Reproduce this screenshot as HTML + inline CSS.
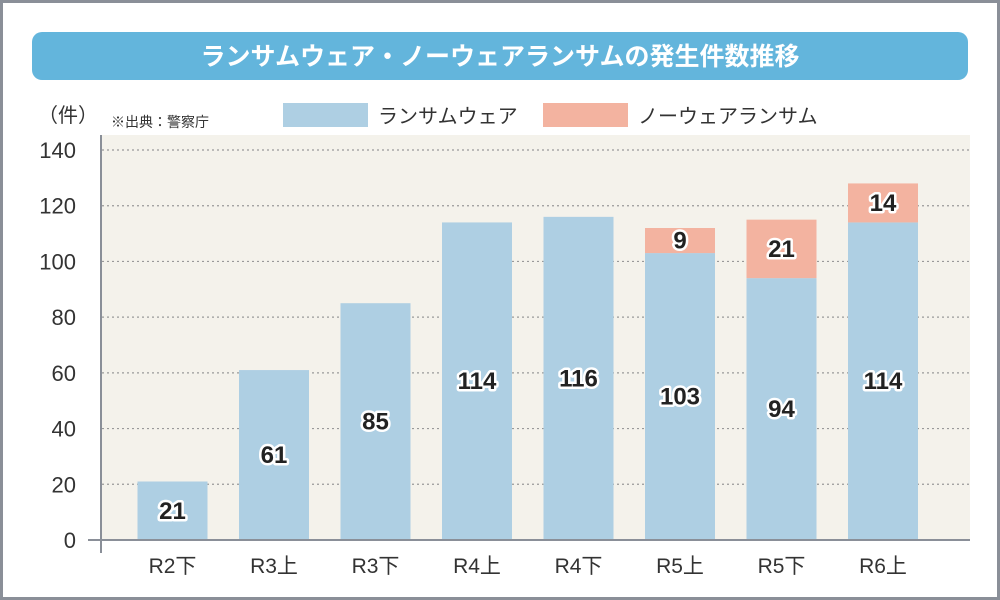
<!DOCTYPE html>
<html><head><meta charset="utf-8"><style>
body{margin:0;background:#fff;}
svg{display:block;font-family:"Liberation Sans","Noto Sans CJK JP",sans-serif;}
</style></head><body>
<svg id="c" width="1000" height="600" viewBox="0 0 1000 600">
<rect x="1.5" y="1.5" width="997" height="597" fill="#fff" stroke="#8a8f98" stroke-width="3"/>
<rect x="32" y="32" width="936" height="48" rx="10" fill="#63b5dc"/>
<text x="500" y="65" text-anchor="middle" font-size="25" font-weight="bold" fill="#fff">ランサムウェア・ノーウェアランサムの発生件数推移</text>
<text x="38" y="122" font-size="20" fill="#333">（件）</text>
<text x="111" y="127" font-size="14" fill="#333">※出典：警察庁</text>
<rect x="283" y="103" width="85" height="24" fill="#aecfe3"/>
<text x="378" y="123" font-size="20" fill="#333">ランサムウェア</text>
<rect x="543" y="103" width="85" height="24" fill="#f3b3a0"/>
<text x="638" y="123" font-size="20" fill="#333">ノーウェアランサム</text>
<rect x="102" y="135" width="868" height="405" fill="#f4f2eb"/>
<g id="grid"></g><g id="bars"></g>
<line x1="101" y1="135" x2="101" y2="553" stroke="#8a8f98" stroke-width="2"/>
<line x1="88" y1="540" x2="970" y2="540" stroke="#8a8f98" stroke-width="2"/>
</svg>
<script>
const categories=["R2下","R3上","R3下","R4上","R4下","R5上","R5下","R6上"];
const ransomware=[21,61,85,114,116,103,94,114];
const noware=[0,0,0,0,0,9,21,14];
const yTicks=[0,20,40,60,80,100,120,140];
const NS="http://www.w3.org/2000/svg";
const y=v=>540-v*(390/140);
const x=i=>172.5+i*101.5;
const BW=70;
function mk(t,a,p){const e=document.createElementNS(NS,t);for(const k in a)e.setAttribute(k,a[k]);p.appendChild(e);return e;}
const g=document.getElementById('grid'),b=document.getElementById('bars');
yTicks.forEach(v=>{
  if(v>0){const l=mk('line',{x1:102,x2:970,y1:y(v),y2:y(v),stroke:'#999','stroke-dasharray':'2,3','stroke-width':1.2},g);
  
  }
  const t=mk('text',{x:76,y:y(v)+8,'text-anchor':'end','font-size':22,fill:'#333'},g);t.textContent=v;
  
  
});
function label(cx,cy,txt,nm){
  const t=mk('text',{x:cx,y:cy+8,'text-anchor':'middle','font-size':24,'font-weight':'bold',fill:'#222',stroke:'#fff','stroke-width':5,'paint-order':'stroke','stroke-linejoin':'round'},b);
  t.textContent=txt;
  
  
}
categories.forEach((c,i)=>{
  const r=ransomware[i],n=noware[i];
  const rb=mk('rect',{x:x(i)-BW/2,y:y(r),width:BW,height:y(0)-y(r),fill:'#aecfe3'},b);
  
  
  label(x(i),(y(r)+y(0))/2,r,'value-ransomware-'+i);
  if(n>0){
    const nb=mk('rect',{x:x(i)-BW/2,y:y(r+n),width:BW,height:y(r)-y(r+n),fill:'#f3b3a0'},b);
    
    
    label(x(i),(y(r)+y(r+n))/2,n,'value-noware-'+i);
  }
  const t=mk('text',{x:x(i),y:573,'text-anchor':'middle','font-size':21,fill:'#333'},b);t.textContent=c;
  
  
});
</script>
</body></html>
